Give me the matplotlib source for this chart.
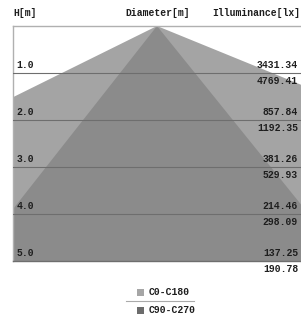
import numpy as np
import matplotlib.pyplot as plt
from matplotlib.patches import Rectangle
from matplotlib.lines import Line2D

# 高度 / 照度 / 光斑半径 (左, 右)
heights = [0.0, 1.0, 2.0, 3.0, 4.0, 5.0]
lux_c0 = [3431.34, 857.84, 381.26, 214.46, 137.25]
lux_c90 = [4769.41, 1192.35, 529.93, 298.09, 190.78]
c0_left = [0.0, 1.98, 3.96, 5.94, 7.92, 9.90]
c0_right = [0.0, 2.40, 4.80, 7.20, 9.60, 12.00]
c90_left = [0.0, 0.77, 1.54, 2.31, 3.08, 3.85]
c90_right = [0.0, 0.79, 1.58, 2.37, 3.16, 3.95]
series = ['C0-C180', 'C90-C270']

font = 'Liberation Mono'
txt = '#1e1e1e'
light = '#a4a4a4'
dark = '#8b8b8b'
fs = 7.0

fig = plt.figure(figsize=(3.01, 3.20), dpi=100)
ax = fig.add_axes([13 / 301, 59 / 320, 288 / 301, 235 / 320])
ax.set_xlim(-3, 3)
ax.set_ylim(5, 0)
ax.axis('off')

# 光锥
xs = np.concatenate([-np.array(c0_left), np.array(c0_right)[::-1]])
ys = np.concatenate([heights, heights[::-1]])
ax.fill(xs, ys, color=light, lw=0, zorder=1)
xs = np.concatenate([-np.array(c90_left), np.array(c90_right)[::-1]])
ax.fill(xs, ys, color=dark, lw=0, zorder=2)

# 边框和横线
ax.plot([-3, 3], [0, 0], color='#b0b0b0', lw=1.0, zorder=3, clip_on=False)
ax.plot([-3, -3], [0, 5], color='#b0b0b0', lw=1.0, zorder=3, clip_on=False)
for h in heights[1:5]:
    ax.axhline(h, color='#6e6e6e', lw=0.8, zorder=3)
ax.plot([-3, 3], [5, 5], color='#6e6e6e', lw=1.0, zorder=3, clip_on=False)

tr = ax.get_yaxis_transform()
for h, a, b in zip(heights[1:], lux_c0, lux_c90):
    ax.text(0.012, h - 0.06, '%.1f' % h, transform=tr, ha='left', va='bottom',
            fontsize=fs, family=font, color=txt, weight='bold', zorder=4)
    ax.text(0.99, h - 0.06, '%.2f' % a, transform=tr, ha='right', va='bottom',
            fontsize=fs, family=font, color=txt, weight='bold', zorder=4)
    ax.text(0.99, h + 0.07, '%.2f' % b, transform=tr, ha='right', va='top',
            fontsize=fs, family=font, color=txt, weight='bold', zorder=4)

# 表头
fig.text(13 / 301, 1 - 13 / 320, 'H[m]', ha='left', va='center',
         fontsize=fs, family=font, color=txt, weight='bold')
fig.text(158 / 301, 1 - 13 / 320, 'Diameter[m]', ha='center', va='center',
         fontsize=fs, family=font, color=txt, weight='bold')
fig.text(300 / 301, 1 - 13 / 320, 'Illuminance[lx]', ha='right', va='center',
         fontsize=fs, family=font, color=txt, weight='bold')

# 图例
for i, (name, c) in enumerate(zip(series, ['#a6a6a6', '#6c6c6c'])):
    y = 292 + 18 * i
    fig.add_artist(Rectangle((137 / 301, 1 - (y + 3.5) / 320), 7 / 301, 7 / 320,
                             transform=fig.transFigure, color=c, lw=0))
    fig.text(149 / 301, 1 - y / 320, name, ha='left', va='center',
             fontsize=fs, family=font, color=txt, weight='bold')
fig.add_artist(Line2D([126 / 301, 194 / 301], [1 - 301 / 320, 1 - 301 / 320],
                      transform=fig.transFigure, color='#aaaaaa', lw=0.8))

fig.savefig('out.png', dpi=100)
